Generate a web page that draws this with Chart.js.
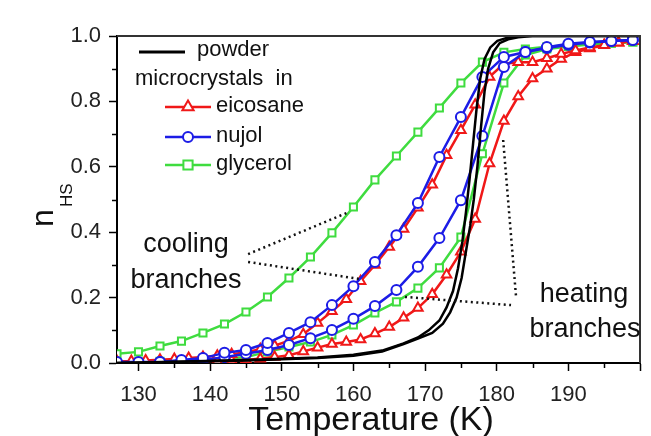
<!DOCTYPE html>
<html><head><meta charset="utf-8">
<script src="https://cdn.jsdelivr.net/npm/chart.js@4.4.0/dist/chart.umd.min.js"></script>
<style>html,body{margin:0;padding:0;background:#fff}#wrap{width:651px;height:436px}</style>
</head><body><div id="wrap"><canvas id="c" width="651" height="436"></canvas></div>
<script>
// ---------- data ----------
const tStep3 = [127,130,133,136,139,142,145,148,151,154,157,160,163,166,169,172,175,178,181,184,187,190,193,196,199];
const tStep2 = [127,129,131,133,135,137,139,141,143,145,147,149,151,153,155,157,159,161,163,165,167,169,171,173,175,177,179,181,183,185,187,189,191,193,195,197,199];

const glycerolCool = [0.028,0.034,0.052,0.067,0.092,0.119,0.156,0.202,0.260,0.324,0.398,0.477,0.560,0.633,0.706,0.780,0.856,0.920,0.950,0.960,0.967,0.972,0.976,0.979,0.982];
const glycerolHeat = [0.000,0.003,0.005,0.007,0.010,0.013,0.018,0.034,0.049,0.064,0.086,0.116,0.153,0.187,0.229,0.291,0.385,0.640,0.856,0.942,0.960,0.968,0.974,0.978,0.982];
const nujolCool = [0.003,0.003,0.003,0.009,0.015,0.031,0.040,0.061,0.092,0.125,0.177,0.235,0.309,0.391,0.489,0.630,0.752,0.875,0.936,0.951,0.966,0.976,0.982,0.985,0.988];
const nujolHeat = [0.000,0.000,0.003,0.006,0.009,0.018,0.028,0.040,0.055,0.076,0.101,0.135,0.174,0.223,0.294,0.382,0.498,0.694,0.905,0.951,0.963,0.973,0.980,0.985,0.988];
const eicosaneCool = [0.005,0.006,0.008,0.010,0.012,0.015,0.018,0.022,0.027,0.033,0.042,0.053,0.068,0.088,0.122,0.158,0.195,0.250,0.300,0.355,0.410,0.475,0.545,0.635,0.712,0.790,0.875,0.915,0.920,0.920,0.932,0.945,0.956,0.965,0.972,0.979,0.985];
const eicosaneHeat = [0.000,0.000,0.003,0.003,0.003,0.005,0.005,0.006,0.008,0.010,0.013,0.018,0.024,0.035,0.047,0.058,0.064,0.072,0.090,0.110,0.138,0.168,0.210,0.270,0.340,0.440,0.610,0.740,0.815,0.870,0.900,0.930,0.950,0.962,0.972,0.979,0.985];

const powderHeatT = [127,135,145,155,160,164,167,169,171,172.5,173.5,174.4,175.1,175.7,176.3,176.8,177.3,177.8,178.3,178.8,179.5,180.4,181.6,183,185,200];
const powderHeatN = [0.000,0.003,0.008,0.015,0.022,0.035,0.058,0.075,0.092,0.120,0.155,0.200,0.260,0.340,0.420,0.500,0.600,0.720,0.830,0.900,0.950,0.978,0.990,0.996,1.000,1.000];
const powderCoolT = [127,135,145,155,160,164,167,169,170.5,172,173,173.9,174.6,175.2,175.7,176.2,176.7,177.2,177.7,178.3,179.1,180.1,181.5,183.5,200];
const powderCoolN = [0.000,0.004,0.009,0.017,0.025,0.038,0.060,0.078,0.100,0.130,0.170,0.220,0.290,0.370,0.460,0.560,0.670,0.780,0.870,0.930,0.965,0.985,0.995,1.000,1.000];

// annotation pointer lines (data coordinates)
const coolPtr1T = [145.3,159.3], coolPtr1N = [0.333,0.461];
const coolPtr2T = [145.3,160.8], coolPtr2N = [0.309,0.257];
const heatPtr1T = [180.9,182.7], heatPtr1N = [0.682,0.202];
const heatPtr2T = [167.2,182.0], heatPtr2N = [0.202,0.177];

const xTickLabels = [130,140,150,160,170,180,190];
const yTickLabels = ['0.0','0.2','0.4','0.6','0.8','1.0'];
const powderLabel = 'powder';
const headerLabel = 'microcrystals  in';
const mediaNames = ['eicosane','nujol','glycerol'];
const coolText = ['cooling','branches'];
const heatText = ['heating','branches'];
const xTitle = 'Temperature (K)';
const yTitleMain = 'n', yTitleSub = 'HS';

// ---------- styles ----------
const FONT = '"Liberation Sans", Arial, Helvetica, sans-serif';
const RED = '#f01818', BLUE = '#1c1ce6', GREEN = '#3fdc3f', BLACK = '#000';
const pts = (xs, ys) => xs.map((x, i) => ({x: x, y: ys[i]}));

function series(label, xs, ys, color, style, radius) {
  return {label: label, data: pts(xs, ys), showLine: true, borderColor: color, borderWidth: 2.5,
    pointStyle: style, pointRadius: radius, pointBorderWidth: 2, pointBorderColor: color,
    pointBackgroundColor: '#fff', fill: false, tension: 0};
}
function pointer(xs, ys) {
  return {label: '_ptr', data: pts(xs, ys), showLine: true, borderColor: '#111', borderWidth: 2.5,
    borderDash: [2, 3.5], pointRadius: 0, fill: false};
}

const datasets = [
  pointer(coolPtr1T, coolPtr1N), pointer(coolPtr2T, coolPtr2N),
  pointer(heatPtr1T, heatPtr1N), pointer(heatPtr2T, heatPtr2N),
  series(powderLabel, powderHeatT, powderHeatN, BLACK, false, 0),
  series(powderLabel, powderCoolT, powderCoolN, BLACK, false, 0),
  series(mediaNames[1], tStep3, nujolCool, BLUE, 'circle', 5),
  series(mediaNames[1], tStep3, nujolHeat, BLUE, 'circle', 5),
  series(mediaNames[0], tStep2, eicosaneCool, RED, 'triangle', 5.5),
  series(mediaNames[0], tStep2, eicosaneHeat, RED, 'triangle', 5.5),
  series(mediaNames[2], tStep3, glycerolCool, GREEN, 'rect', 5),
  series(mediaNames[2], tStep3, glycerolHeat, GREEN, 'rect', 5)
];

function marker(c, style, x, y, r, color) {
  c.save(); c.strokeStyle = color; c.fillStyle = '#fff'; c.lineWidth = 2;
  c.beginPath();
  if (style === 'circle') { c.arc(x, y, r, 0, Math.PI * 2); }
  else if (style === 'rect') { const s = r * Math.SQRT1_2 * 1.3; c.rect(x - s, y - s, 2 * s, 2 * s); }
  else if (style === 'triangle') {
    c.moveTo(x, y - r); c.lineTo(x + r * 0.866, y + r * 0.5); c.lineTo(x - r * 0.866, y + r * 0.5); c.closePath();
  }
  c.fill(); c.stroke(); c.restore();
}

const decor = {
  id: 'decor',
  afterDraw(chart) {
    const c = chart.ctx, a = chart.chartArea, xs = chart.scales.x, ys = chart.scales.y;
    c.save();
    // frame top/right
    c.strokeStyle = '#333'; c.lineWidth = 2;
    c.beginPath(); c.moveTo(a.left, a.top); c.lineTo(a.right, a.top); c.lineTo(a.right, a.bottom); c.stroke();
    // minor ticks
    c.strokeStyle = '#000'; c.lineWidth = 1.5;
    for (let t = 135; t < 200; t += 10) {
      const px = Math.round(xs.getPixelForValue(t)) + 0.5;
      c.beginPath(); c.moveTo(px, a.bottom); c.lineTo(px, a.bottom + 5); c.stroke();
    }
    for (let v = 0.1; v < 1; v += 0.2) {
      const py = Math.round(ys.getPixelForValue(v)) + 0.5;
      c.beginPath(); c.moveTo(a.left - 5, py); c.lineTo(a.left, py); c.stroke();
    }
    // legend
    c.fillStyle = '#111'; c.textBaseline = 'middle'; c.textAlign = 'left';
    c.font = '22px ' + FONT;
    c.strokeStyle = BLACK; c.lineWidth = 3;
    c.beginPath(); c.moveTo(139, 52); c.lineTo(185, 52); c.stroke();
    c.fillText(powderLabel, 197, 50);
    c.fillText(headerLabel, 135, 79);
    const rows = [[mediaNames[0], RED, 'triangle', 106, 6.5], [mediaNames[1], BLUE, 'circle', 136, 5], [mediaNames[2], GREEN, 'rect', 164, 5]];
    rows.forEach(r => {
      c.strokeStyle = r[1]; c.lineWidth = 2.5;
      c.beginPath(); c.moveTo(165, r[3] + 1); c.lineTo(211, r[3] + 1); c.stroke();
      marker(c, r[2], 188, r[3] + 1, r[4], r[1]);
      c.fillStyle = '#111';
      c.fillText(r[0], 216, r[3]);
    });
    // annotations
    c.font = '27px ' + FONT; c.textAlign = 'center'; c.textBaseline = 'alphabetic';
    c.fillText(coolText[0], 186, 252);
    c.fillText(coolText[1], 186, 288);
    c.fillText(heatText[0], 584, 302);
    c.fillText(heatText[1], 585, 337);
    // axis titles
    c.font = '34px ' + FONT;
    c.fillText(xTitle, 371, 430);
    c.translate(53, 227); c.rotate(-Math.PI / 2);
    c.textAlign = 'left';
    c.font = '32px ' + FONT; c.fillText(yTitleMain, 0, 0);
    c.font = '17px ' + FONT; c.fillText(yTitleSub, 20, 19);
    c.restore();
  }
};

new Chart(document.getElementById('c'), {
  type: 'scatter',
  data: {datasets: datasets},
  plugins: [decor],
  options: {
    responsive: false, animation: false, devicePixelRatio: 1,
    layout: {padding: {top: 36, right: 4, left: 0, bottom: 0}},
    plugins: {legend: {display: false}, tooltip: {enabled: false}},
    scales: {
      x: {type: 'linear', min: 127, max: 200,
        afterFit: s => { s.height = 73; },
        grid: {drawOnChartArea: false, tickLength: 8, tickColor: '#000', tickWidth: 1.5},
        border: {display: true, color: '#000', width: 2},
        ticks: {stepSize: 10, includeBounds: false, autoSkip: false, maxRotation: 0, padding: 11,
          color: '#222', font: {family: FONT, size: 22},
          callback: v => xTickLabels.includes(v) ? String(v) : ''}},
      y: {min: 0, max: 1,
        afterFit: s => { s.width = 117; },
        grid: {drawOnChartArea: false, tickLength: 8, tickColor: '#000', tickWidth: 1.5},
        border: {display: true, color: '#000', width: 2},
        ticks: {stepSize: 0.2, padding: 8, color: '#222', font: {family: FONT, size: 22},
          callback: v => yTickLabels[Math.round(v * 5)] || ''}}
    }
  }
});
</script></body></html>
